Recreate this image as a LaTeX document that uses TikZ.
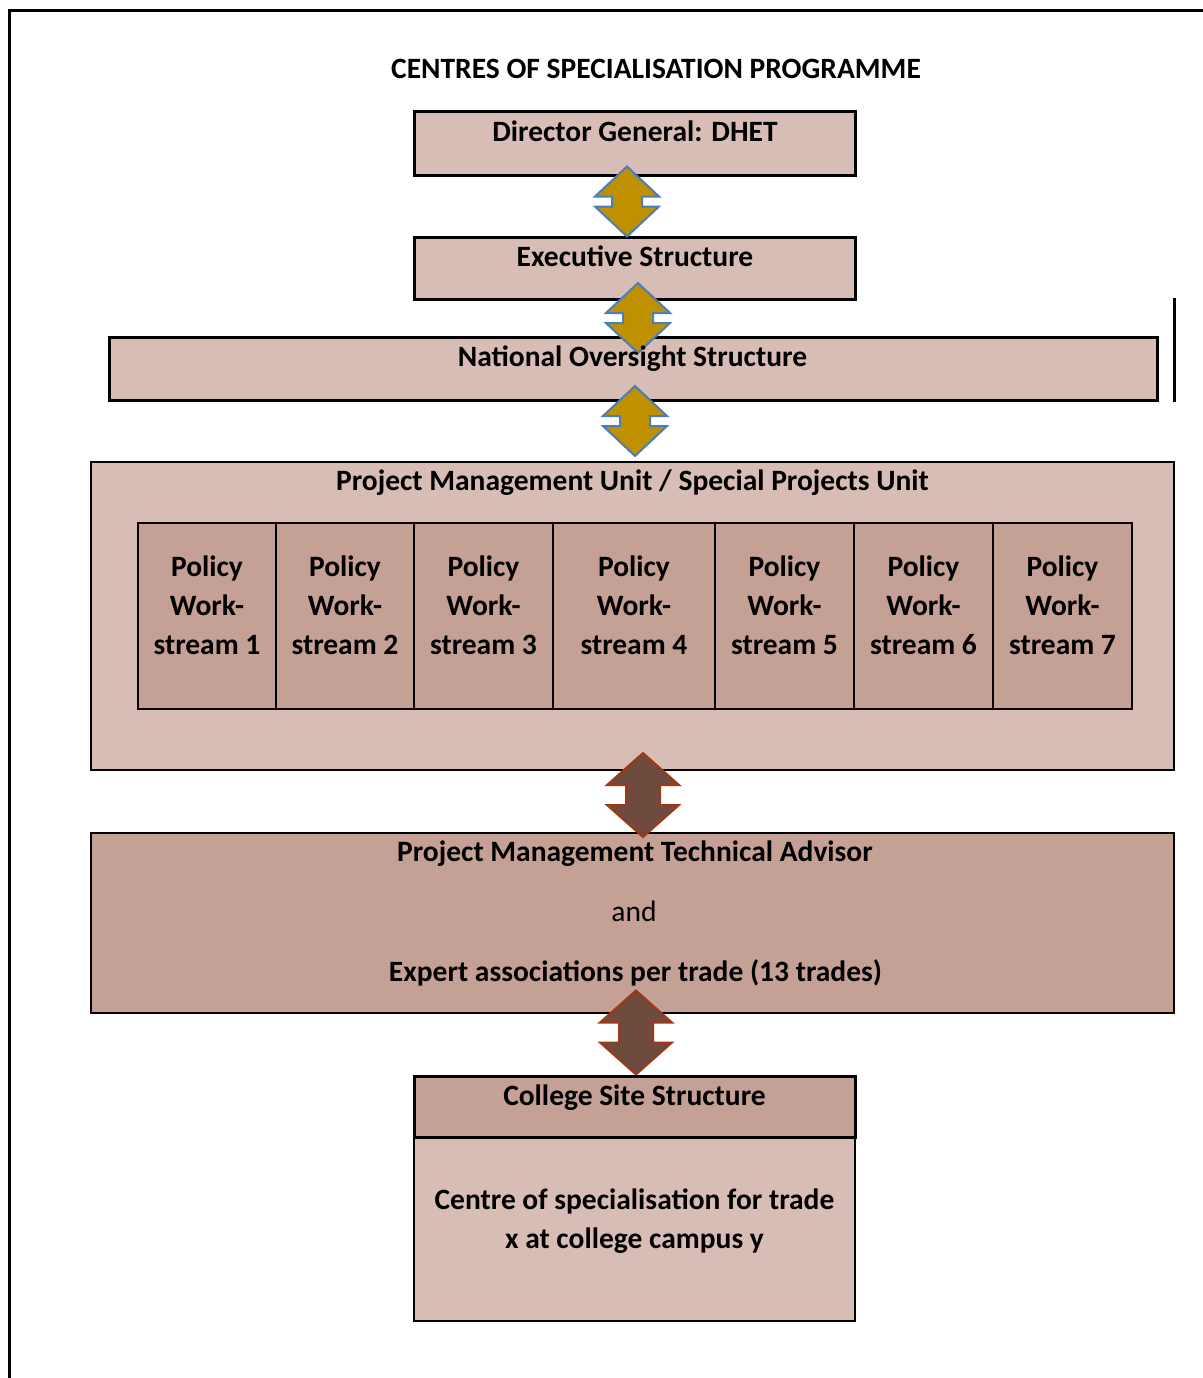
\documentclass[tikz,border=0pt]{standalone}
\usepackage{fontspec}
\setmainfont{Carlito}
\usepackage{tikz}
\usetikzlibrary{calc,positioning}
\definecolor{Rosewood}{RGB}{216,189,182}
\definecolor{Clay}{RGB}{196,160,149}
\definecolor{Ochre}{RGB}{191,144,0}
\definecolor{Steel}{RGB}{74,126,187}
\definecolor{Umber}{RGB}{111,75,62}
\definecolor{Rust}{RGB}{158,56,22}
\tikzset{
  box/.style={draw, line width=1pt, inner sep=0pt},
  heavybox/.style={draw, line width=1.5pt, inner sep=0pt},
  txt/.style={font=\bfseries\fontsize{14.75}{19.5}\selectfont, inner sep=0pt, text height=11pt, text depth=1.7pt},
  wstxt/.style={font=\bfseries\fontsize{14.75}{19.5}\selectfont, inner sep=0pt, align=center},
  goldarrow/.pic={\draw[fill=Ochre, draw=Steel, line width=1pt, line join=miter]
    (0,-35) -- (32,-5) -- (15,-5) -- (15,5) -- (32,5) -- (0,35) -- (-32,5) -- (-15,5) -- (-15,-5) -- (-32,-5) -- cycle;},
  brownarrow/.pic={\draw[fill=Umber, draw=Rust, line width=1pt, line join=miter]
    (0,-42) -- (36,-10) -- (17,-10) -- (17,10) -- (36,10) -- (0,42) -- (-36,10) -- (-17,10) -- (-17,-10) -- (-36,-10) -- cycle;}
}
\begin{document}
\begin{tikzpicture}[x=0.5pt,y=-0.5pt]
\useasboundingbox (0,0) rectangle (1203,1378);
\draw[line width=1.5pt] (9.5,1378) -- (9.5,10.5) -- (1203,10.5);
\draw[line width=1.5pt] (1174.5,298) -- (1174.5,402);
%
% boxes
\node[heavybox, fill=Rosewood, minimum width=220.5pt, minimum height=32pt] (dg) at (634.5,143) {};
\node[heavybox, fill=Rosewood, minimum width=220.5pt, minimum height=31pt] (exec) at (634.5,268) {};
\node[heavybox, fill=Rosewood, minimum width=524pt, minimum height=31.5pt] (nos) at (633,368.5) {};
\node[box, fill=Rosewood, minimum width=541.5pt, minimum height=154pt] (pmu) at (632.5,616) {};
\node[box, fill=Clay, minimum width=69pt, minimum height=93pt] (ws1) at (207,616) {};
\node[box, fill=Clay, minimum width=69pt, minimum height=93pt] (ws2) at (345,616) {};
\node[box, fill=Clay, minimum width=69.5pt, minimum height=93pt] (ws3) at (483.5,616) {};
\node[box, fill=Clay, minimum width=81pt, minimum height=93pt] (ws4) at (634,616) {};
\node[box, fill=Clay, minimum width=69.5pt, minimum height=93pt] (ws5) at (784.5,616) {};
\node[box, fill=Clay, minimum width=69.5pt, minimum height=93pt] (ws6) at (923.5,616) {};
\node[box, fill=Clay, minimum width=69.5pt, minimum height=93pt] (ws7) at (1062.5,616) {};
\node[box, fill=Clay, minimum width=541.5pt, minimum height=90pt] (pmta) at (632.5,923) {};
\node[box, fill=Rosewood, minimum width=220.5pt, minimum height=92pt] (campus) at (634.5,1229) {};
\node[heavybox, fill=Clay, minimum width=220.5pt, minimum height=30.5pt] (site) at (634.5,1106.5) {};
%
% block arrows
\pic at (627,201.5) {goldarrow};
\pic at (638,318) {goldarrow};
\pic at (635,421) {goldarrow};
\pic at (643,795) {brownarrow};
\pic at (636,1032.5) {brownarrow};
%
% texts
\node[txt] (title) at (656,69) {CENTRES OF SPECIALISATION PROGRAMME};
\node[txt] (dgtext) at (635,132) {Director General: DHET};
\node[txt] (exectext) at (635,257) {Executive Structure};
\node[txt] (nostext) at (632.5,357) {National Oversight Structure};
\node[txt] (pmutext) at (632.5,481) {Project Management Unit / Special Projects Unit};
\node[wstxt] (ws1text) at (207,605) {Policy\\Work-\\stream 1};
\node[wstxt] (ws2text) at (345,605) {Policy\\Work-\\stream 2};
\node[wstxt] (ws3text) at (483.5,605) {Policy\\Work-\\stream 3};
\node[wstxt] (ws4text) at (634,605) {Policy\\Work-\\stream 4};
\node[wstxt] (ws5text) at (784.5,605) {Policy\\Work-\\stream 5};
\node[wstxt] (ws6text) at (923.5,605) {Policy\\Work-\\stream 6};
\node[wstxt] (ws7text) at (1062.5,605) {Policy\\Work-\\stream 7};
\node[txt] (pmtatext) at (635,852) {Project Management Technical Advisor};
\node[txt, font=\fontsize{14.75}{19.5}\selectfont] (andtext) at (634,912) {and};
\node[txt] (experttext) at (635.5,972) {Expert associations per trade (13 trades)};
\node[txt] (sitetext) at (634.5,1096) {College Site Structure};
\node[wstxt] (campustext) at (634.5,1221) {Centre of specialisation for trade\\x at college campus y};
%
\end{tikzpicture}
\end{document}
